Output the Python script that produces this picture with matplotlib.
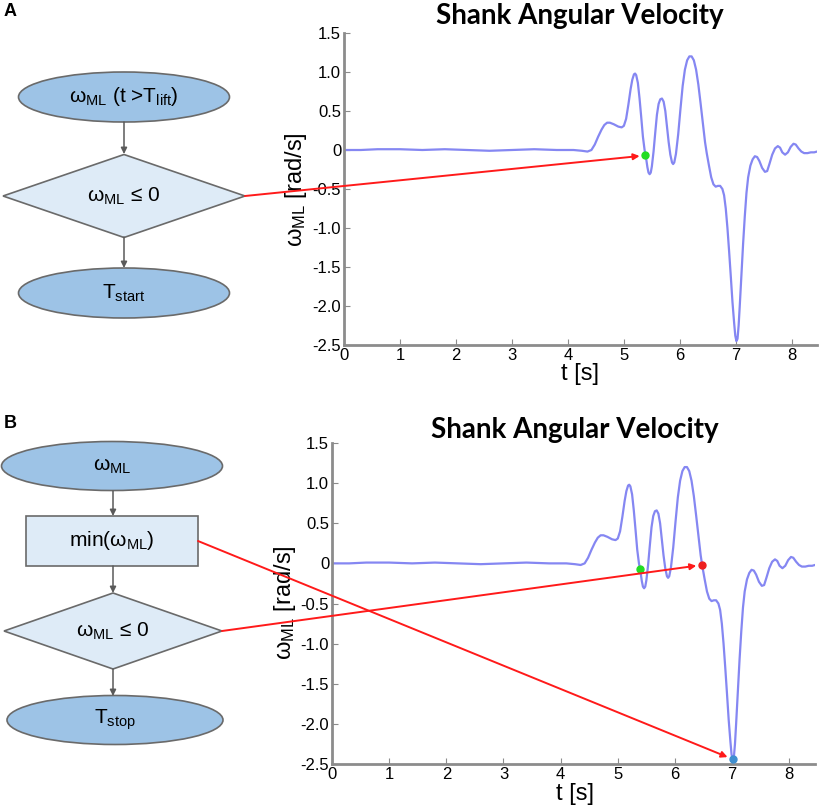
import matplotlib
matplotlib.use("Agg")
import matplotlib.pyplot as plt
from matplotlib.patches import Ellipse, Polygon, Rectangle, ConnectionPatch

plt.rcParams['font.family'] = ['Liberation Sans', 'DejaVu Sans']
plt.rcParams['mathtext.fontset'] = 'custom'
plt.rcParams['mathtext.rm'] = 'Liberation Sans'
plt.rcParams['mathtext.it'] = 'Liberation Sans'
plt.rcParams['mathtext.default'] = 'regular'

# shank angular velocity trace
t = [0.0, 0.3, 0.6, 1.0, 1.4, 1.8, 2.2, 2.6, 3.0, 3.4, 3.8, 4.1, 4.25, 4.35,
     4.42, 4.48, 4.54, 4.6, 4.65, 4.7, 4.75, 4.82, 4.9, 4.96, 5.0, 5.04, 5.08,
     5.12, 5.15, 5.18, 5.2, 5.22, 5.25, 5.28, 5.31, 5.34, 5.37, 5.39, 5.42,
     5.44, 5.46, 5.48, 5.5, 5.53, 5.56, 5.59, 5.62, 5.65, 5.68, 5.71, 5.74,
     5.77, 5.8, 5.83, 5.86, 5.88, 5.9, 5.93, 5.97, 6.01, 6.05, 6.09, 6.13,
     6.17, 6.21, 6.25, 6.29, 6.33, 6.37, 6.41, 6.45, 6.48, 6.52, 6.56, 6.6,
     6.64, 6.68, 6.72, 6.76, 6.79, 6.82, 6.85, 6.88, 6.91, 6.94, 6.97, 6.99,
     7.01, 7.03, 7.05, 7.07, 7.1, 7.13, 7.16, 7.19, 7.22, 7.26, 7.3, 7.34,
     7.38, 7.42, 7.47, 7.52, 7.56, 7.6, 7.65, 7.7, 7.75, 7.79, 7.83, 7.88,
     7.93, 7.98, 8.03, 8.07, 8.12, 8.17, 8.22, 8.28, 8.34, 8.4, 8.45]
omega = [0.0, 0.0, 0.01, 0.01, 0.0, 0.01, 0.0, -0.01, 0.0, 0.01, 0.0, 0.0, -0.01, -0.02,
         0.0, 0.07, 0.17, 0.26, 0.32, 0.35, 0.35, 0.33, 0.3, 0.29, 0.31, 0.4, 0.58,
         0.78, 0.9, 0.97, 0.98, 0.96, 0.86, 0.66, 0.42, 0.17, 0.0, -0.07, -0.22,
         -0.29, -0.31, -0.29, -0.21, -0.02, 0.22, 0.45, 0.59, 0.65, 0.66, 0.62, 0.5,
         0.3, 0.1, -0.06, -0.16, -0.18, -0.16, -0.05, 0.2, 0.52, 0.82, 1.03, 1.15,
         1.2, 1.2, 1.15, 1.03, 0.84, 0.6, 0.35, 0.1, -0.04, -0.2, -0.35, -0.44,
         -0.47, -0.46, -0.46, -0.5, -0.58, -0.75, -1.0, -1.3, -1.62, -1.95, -2.22, -2.38,
         -2.45, -2.42, -2.25, -2.0, -1.6, -1.2, -0.85, -0.55, -0.35, -0.2, -0.12, -0.08,
         -0.09, -0.14, -0.23, -0.28, -0.27, -0.18, -0.06, 0.02, 0.05, 0.03, -0.03, -0.06,
         -0.03, 0.04, 0.08, 0.07, 0.02, -0.02, -0.04, -0.04, -0.03, -0.03, -0.02]

y_ticks = [1.5, 1.0, 0.5, 0, -0.5, -1.0, -1.5, -2.0, -2.5]
y_ticklabels = ["1.5", "1.0", "0.5", "0", "-0.5", "-1.0", "-1.5", "-2.0", "-2.5"]
x_ticks = [0, 1, 2, 3, 4, 5, 6, 7, 8]

# detected events (t, omega)
start_event = (5.38, -0.07)
stop_event = (6.47, -0.02)
min_event = (7.01, -2.44)

W, H = 820, 811
fig = plt.figure(figsize=(W / 100, H / 100), dpi=100)

# overlay in pixel coordinates for flowcharts and free text
ov = fig.add_axes([0, 0, 1, 1])
ov.set_xlim(0, W)
ov.set_ylim(H, 0)
ov.axis('off')
ov.patch.set_alpha(0)


def make_axes(left, right, top, bottom):
    ax = fig.add_axes([left / W, 1 - bottom / H, (right - left) / W, (bottom - top) / H])
    ax.plot(t, omega, color='#8587f2', lw=1.6)
    ax.set_xlim(0, 8.45)
    ax.set_ylim(-2.5, 1.5)
    ax.set_yticks(y_ticks)
    ax.set_yticklabels(y_ticklabels)
    ax.set_xticks(x_ticks)
    for s in ['top', 'right']:
        ax.spines[s].set_visible(False)
    for s in ['left', 'bottom']:
        ax.spines[s].set_color('#8c8c8c')
        ax.spines[s].set_linewidth(2)
    ax.tick_params(direction='in', length=4, color='#8c8c8c', labelsize=12, pad=2)
    ax.patch.set_alpha(0)
    return ax


axA = make_axes(344, 817, 33, 345)
axB = make_axes(332, 815, 443, 764)

title_font = dict(family='Lato', weight='bold', fontsize=20, ha='center', va='baseline')
ov.text(580, 24, "Shank Angular Velocity", **title_font)
ov.text(575, 438, "Shank Angular Velocity", **title_font)

ylab = "$ω_{ML}$ [rad/s]"
ov.text(296, 190, ylab, rotation=90, ha='center', va='center', fontsize=17)
ov.text(285, 603, ylab, rotation=90, ha='center', va='center', fontsize=17)
ov.text(580, 374, "t [s]", ha='center', va='center', fontsize=17)
ov.text(575, 794, "t [s]", ha='center', va='center', fontsize=17)

ov.text(4, 12, "A", fontsize=13, weight='bold', va='center')
ov.text(4, 423, "B", fontsize=13, weight='bold', va='center')

dark_fill = '#9dc3e6'
light_fill = '#deebf7'
edge = '#6a6a6a'


def ellipse(cx, cy, w, h, label):
    ov.add_patch(Ellipse((cx, cy), w, h, facecolor=dark_fill, edgecolor=edge, lw=1.2))
    ov.text(cx, cy, label, ha='center', va='center', fontsize=15)


def diamond(cx, cy, w, h, label):
    pts = [(cx - w / 2, cy), (cx, cy - h / 2), (cx + w / 2, cy), (cx, cy + h / 2)]
    ov.add_patch(Polygon(pts, closed=True, facecolor=light_fill, edgecolor=edge, lw=1.2))
    ov.text(cx, cy, label, ha='center', va='center', fontsize=15)


def box(x0, y0, x1, y1, label):
    ov.add_patch(Rectangle((x0, y0), x1 - x0, y1 - y0, facecolor=light_fill, edgecolor=edge, lw=1.2))
    ov.text((x0 + x1) / 2, (y0 + y1) / 2, label, ha='center', va='center', fontsize=15)


def down_arrow(x, y0, y1):
    ov.annotate('', xy=(x, y1), xytext=(x, y0),
                arrowprops=dict(arrowstyle='-|>', color='#5a5a5a', lw=1.1,
                                mutation_scale=9, shrinkA=0, shrinkB=0))


# flowchart A
ellipse(124, 97, 211, 50, "$ω_{ML}$ (t >$T_{lift}$)")
down_arrow(124, 122, 154)
diamond(124, 196, 242, 83, "$ω_{ML}$ ≤ 0")
down_arrow(124, 237, 268)
ellipse(124, 293, 211, 50, "$T_{start}$")

# flowchart B
ellipse(112, 466, 221, 49, "$ω_{ML}$")
down_arrow(113, 491, 516)
box(26, 516, 198, 566, "min($ω_{ML}$)")
down_arrow(113, 566, 593)
diamond(113, 631, 218, 76, "$ω_{ML}$ ≤ 0")
down_arrow(113, 669, 696)
ellipse(115, 720, 216, 49, "$T_{stop}$")


def red_arrow(xy_px, ax, pt):
    con = ConnectionPatch(xyA=xy_px, coordsA=ov.transData, xyB=pt, coordsB=ax.transData,
                          arrowstyle='-|>', color='#ff1a1a', lw=1.4,
                          mutation_scale=9, shrinkA=0, shrinkB=4)
    fig.add_artist(con)


red_arrow((245, 196), axA, start_event)
red_arrow((222, 631), axB, stop_event)
red_arrow((198, 541), axB, min_event)

axA.plot(*start_event, 'o', color='#22dd22', ms=5, zorder=5, clip_on=False)
axB.plot(*start_event, 'o', color='#22dd22', ms=5, zorder=5, clip_on=False)
axB.plot(*stop_event, 'o', color='#ee2020', ms=5, zorder=5, clip_on=False)
axB.plot(*min_event, 'o', color='#3f8fd0', ms=5, zorder=5, clip_on=False)

fig.savefig("out.png", dpi=100)
